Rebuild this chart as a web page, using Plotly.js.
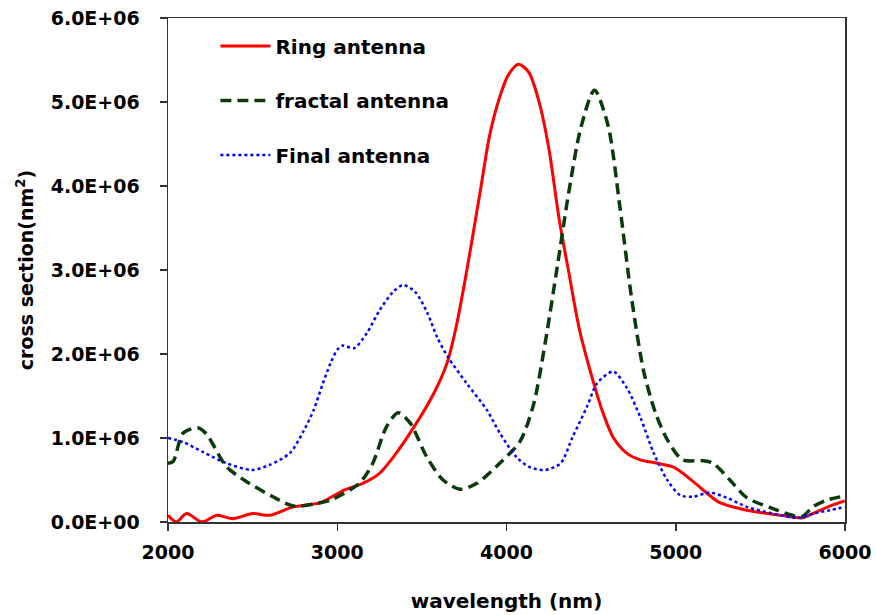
<!DOCTYPE html>
<html>
<head>
<meta charset="utf-8">
<script src="https://cdn.plot.ly/plotly-3.0.1.min.js"></script>
<style>html,body{margin:0;padding:0;background:#fff;}#chart{width:876px;height:615px;}</style>
</head>
<body>
<div id="chart"></div>
<script>
// Ring antenna (solid red)
const ringX = [2000, 2050, 2110, 2200, 2290, 2380, 2500, 2600, 2740, 2900, 3040, 3150, 3250, 3330, 3450, 3570, 3650, 3700, 3750, 3800, 3850, 3900, 3960, 4010, 4070, 4130, 4190, 4250, 4310, 4370, 4430, 4510, 4570, 4630, 4710, 4790, 4890, 4990, 5080, 5180, 5260, 5420, 5620, 5750, 5810, 5910, 6000];
const ringY = [0.08, 0.0, 0.1, 0.0, 0.08, 0.04, 0.1, 0.08, 0.18, 0.23, 0.38, 0.46, 0.58, 0.77, 1.12, 1.53, 1.9, 2.3, 2.82, 3.4, 4.0, 4.6, 5.06, 5.32, 5.45, 5.36, 5.02, 4.45, 3.62, 2.95, 2.3, 1.69, 1.3, 1.01, 0.82, 0.74, 0.7, 0.65, 0.52, 0.35, 0.23, 0.14, 0.08, 0.05, 0.1, 0.19, 0.25];

// fractal antenna (dashed dark green)
const fractalX = [2000, 2030, 2090, 2180, 2230, 2345, 2465, 2620, 2740, 2880, 2960, 3130, 3210, 3290, 3360, 3430, 3530, 3625, 3725, 3825, 3960, 4080, 4160, 4230, 4300, 4370, 4440, 4520, 4600, 4670, 4740, 4810, 4880, 4950, 5040, 5160, 5220, 5320, 5420, 5560, 5690, 5750, 5810, 5890, 6000];
const fractalY = [0.7, 0.72, 1.06, 1.12, 1.04, 0.66, 0.48, 0.3, 0.19, 0.22, 0.26, 0.46, 0.7, 1.13, 1.3, 1.18, 0.77, 0.5, 0.39, 0.46, 0.7, 0.96, 1.4, 2.15, 3.04, 3.95, 4.7, 5.14, 4.72, 3.75, 2.65, 1.8, 1.3, 0.98, 0.74, 0.73, 0.7, 0.5, 0.29, 0.17, 0.08, 0.07, 0.18, 0.26, 0.31];

// Final antenna (dotted blue)
const finalX = [2000, 2090, 2210, 2345, 2495, 2600, 2720, 2800, 2860, 2915, 2960, 3000, 3030, 3100, 3175, 3250, 3330, 3390, 3460, 3530, 3590, 3655, 3765, 3885, 3960, 4060, 4140, 4230, 4320, 4390, 4475, 4535, 4630, 4710, 4790, 4870, 4950, 5025, 5100, 5200, 5300, 5420, 5575, 5735, 5810, 5910, 6000];
const finalY = [1.0, 0.95, 0.83, 0.7, 0.62, 0.68, 0.82, 1.08, 1.33, 1.65, 1.89, 2.05, 2.1, 2.07, 2.25, 2.52, 2.74, 2.82, 2.74, 2.5, 2.2, 1.96, 1.65, 1.33, 1.06, 0.77, 0.65, 0.62, 0.7, 1.01, 1.37, 1.65, 1.79, 1.6, 1.25, 0.82, 0.5, 0.32, 0.3, 0.35, 0.29, 0.18, 0.1, 0.05, 0.1, 0.14, 0.18];

const seriesNames = ["Ring antenna", "fractal antenna", "Final antenna"];
const scale = 1e6;

const xTickVals = [2000, 3000, 4000, 5000, 6000];
const xTickText = ["2000", "3000", "4000", "5000", "6000"];
const yTickVals = [0, 1, 2, 3, 4, 5, 6];
const yTickText = ["0.0E+00", "1.0E+06", "2.0E+06", "3.0E+06", "4.0E+06", "5.0E+06", "6.0E+06"];

const toAbs = arr => arr.map(v => v * scale);

const traces = [
  {x: ringX, y: toAbs(ringY), name: seriesNames[0], mode: 'lines', legendgroup: 'a',
   line: {color: '#ff0000', width: 3, shape: 'spline', smoothing: 0.8}},
  {x: fractalX, y: toAbs(fractalY), name: seriesNames[1], mode: 'lines', legendgroup: 'b',
   line: {color: '#0b3a0b', width: 3.5, dash: '11px,6px', shape: 'spline', smoothing: 0.8}},
  {x: finalX, y: toAbs(finalY), name: seriesNames[2], mode: 'lines', legendgroup: 'c',
   line: {color: '#0000ff', width: 2.5, dash: 'dot', shape: 'spline', smoothing: 0.8}}
];

const FAM = 'DejaVu Sans, sans-serif';
const axisFont = {family: FAM, size: 19, color: '#000', weight: 'bold'};

const layout = {
  width: 876, height: 615,
  margin: {l: 168, r: 31, t: 18, b: 93},
  paper_bgcolor: '#fff', plot_bgcolor: '#fff',
  showlegend: true,
  legend: {x: 0.07, y: 0.983, xanchor: 'left', yanchor: 'top', bgcolor: 'rgba(0,0,0,0)',
           font: {family: FAM, size: 20, color: '#000', weight: 'bold'},
           tracegroupgap: 25.5, itemwidth: 50, traceorder: 'grouped'},
  xaxis: {range: [2000, 6000], tickvals: xTickVals, ticktext: xTickText,
          showgrid: false, zeroline: false, showline: true, linecolor: '#333', linewidth: 1.5,
          mirror: true, ticks: 'outside', ticklen: 7, tickcolor: '#333', tickwidth: 1.5,
          tickfont: axisFont, ticklabelstandoff: 6,
          title: {text: 'wavelength (nm)', font: {family: FAM, size: 20, color: '#000', weight: 'bold'}, standoff: 31}},
  yaxis: {range: [0, 6e6], tickvals: toAbs(yTickVals), ticktext: yTickText,
          showgrid: false, zeroline: false, showline: true, linecolor: '#333', linewidth: 1.5,
          mirror: true, ticks: 'outside', ticklen: 7, tickcolor: '#333', tickwidth: 1.5,
          tickfont: axisFont, ticklabelstandoff: 16,
          title: {text: 'cross section(nm<sup>2</sup>)', font: {family: FAM, size: 19, color: '#000', weight: 'bold'}, standoff: 12}}
};

Plotly.newPlot('chart', traces, layout, {displayModeBar: false, staticPlot: true});
</script>
</body>
</html>
